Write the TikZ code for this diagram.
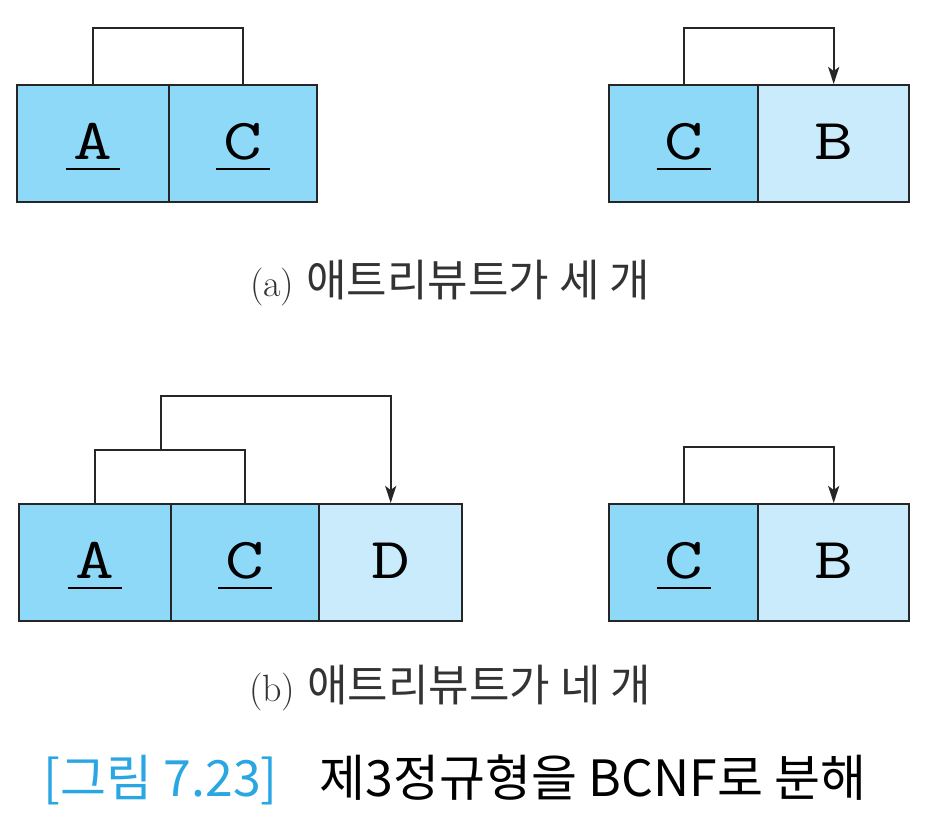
\documentclass[tikz,border=0pt]{standalone}
\usepackage{fontspec}
\newfontfamily\kr{Noto Sans CJK KR}
\usetikzlibrary{arrows.meta}
\definecolor{keycol}{HTML}{8ED8F8}
\definecolor{attcol}{HTML}{C9EBFB}
\definecolor{capblue}{HTML}{2AA7E3}
\newcommand\wideletter[1]{\scalebox{1.3}[1]{#1}}
\newcommand\ulkey[1]{\setbox0\hbox{\wideletter{#1}}\copy0\llap{\makebox[\wd0]{\rule[-11pt]{54pt}{2.6pt}}}}
\tikzset{
  cell/.style={draw=black!85, line width=2.4pt, anchor=north west, inner sep=0pt,
    minimum height=117pt, text height=37pt, text depth=6pt,
    font=\fontsize{58}{58}\selectfont\ttfamily},
  keycell/.style={cell, fill=keycol},
  attcell/.style={cell, fill=attcol},
  fd/.style={draw=black!85, line width=2.4pt},
  fdarrow/.style={fd, -{Stealth[length=17pt,width=11pt,inset=4pt]}},
  caption/.style={font=\fontsize{38}{38}\selectfont, text=black!80, inner sep=0pt}
}
\begin{document}
\begin{tikzpicture}[x=1pt,y=-1pt]
\useasboundingbox (0,0) rectangle (938,828);
% (a) left
\node[keycell, minimum width=152pt] (a1) at (16,84) {\ulkey{A}};
\node[keycell, minimum width=148pt] (c1) at (168,84) {\ulkey{C}};
\draw[fd] (a1.north) -- ++(0,-56) -| (c1.north);
% (a) right
\node[keycell, minimum width=149pt] (c2) at (608,84) {\ulkey{C}};
\node[attcell, minimum width=151pt] (b2) at (757,84) {\wideletter{B}};
\draw[fdarrow] (c2.north) -- ++(0,-56) -| (b2.north);
\node[caption] (capa) at (450,283) {(a)\hspace{12pt}{\kr\fontsize{44}{44}\selectfont 애트리뷰트가 세 개}};
% (b) left
\node[keycell, minimum width=152pt] (a3) at (18,503) {\ulkey{A}};
\node[keycell, minimum width=148pt] (c3) at (170,503) {\ulkey{C}};
\node[attcell, minimum width=143pt] (d3) at (318,503) {\wideletter{D}};
\draw[fd] (a3.north) -- ++(0,-53) -| (c3.north);
\coordinate (m3) at (161,450);
\draw[fdarrow] (m3) -- ++(0,-54) -| (d3.north);
% (b) right
\node[keycell, minimum width=149pt] (c4) at (608,503) {\ulkey{C}};
\node[attcell, minimum width=151pt] (b4) at (757,503) {\wideletter{B}};
\draw[fdarrow] (c4.north) -- ++(0,-56) -| (b4.north);
\node[caption] (capb) at (450,688) {(b)\hspace{12pt}{\kr\fontsize{44}{44}\selectfont 애트리뷰트가 네 개}};
% figure title
\node[inner sep=0pt, font=\kr\fontsize{50}{50}\selectfont] (title) at (455,780)
  {\textcolor{capblue}{[그림 7.23]}\hspace{42pt}제3정규형을 BCNF로 분해};
\end{tikzpicture}
\end{document}
